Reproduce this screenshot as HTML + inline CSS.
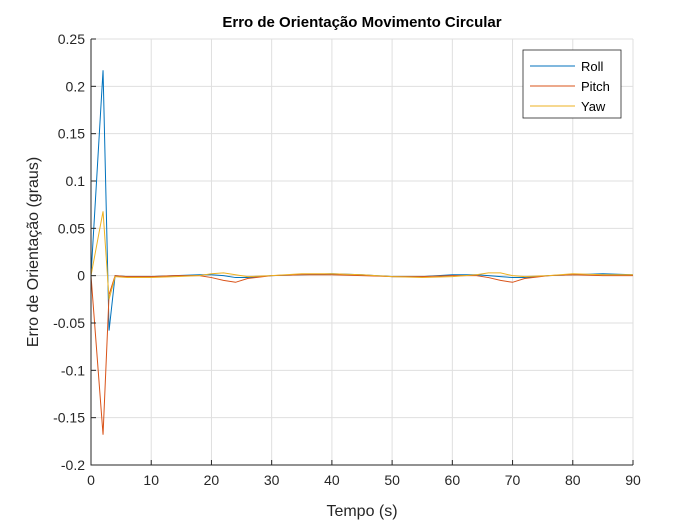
<!DOCTYPE html>
<html><head><meta charset="utf-8"><style>
body{margin:0;background:#fff;font-family:"Liberation Sans",sans-serif}
svg text{font-family:"Liberation Sans",sans-serif}
</style></head><body>
<svg width="700" height="525" id="c">
<rect width="700" height="525" fill="#fff"/>
<text x="362" y="27" text-anchor="middle" font-size="15" font-weight="bold" fill="#000">Erro de Orientação Movimento Circular</text>
<g id="grid"></g><g id="series"></g><g id="axes"></g>
<text x="362" y="516" text-anchor="middle" font-size="16" fill="#262626">Tempo (s)</text>
<text transform="translate(38,252) rotate(-90)" text-anchor="middle" font-size="16" fill="#262626">Erro de Orientação (graus)</text>
<g>
<rect x="523" y="50" width="98" height="68" fill="#fff" stroke="#262626" stroke-width="0.8"/>
<g><line x1="530" y1="66" x2="575" y2="66" stroke="#0072BD"/><text x="581" y="71" font-size="13">Roll</text></g>
<g><line x1="530" y1="86" x2="575" y2="86" stroke="#D95319"/><text x="581" y="91" font-size="13">Pitch</text></g>
<g><line x1="530" y1="106" x2="575" y2="106" stroke="#EDB120"/><text x="581" y="111" font-size="13">Yaw</text></g>
</g>
</svg>
<script>
const times=[0,2,3,4,6,10,14,18,20,22,24,26,30,35,40,45,50,55,60,64,66,68,70,72,76,80,85,90];
const roll=[0,0.217,-0.058,0,-0.001,-0.001,0,0.001,0.001,0,-0.002,-0.002,0,0.001,0.002,0.001,-0.001,-0.001,0.001,0.001,0,-0.001,-0.002,-0.002,0,0.001,0.002,0.001];
const pitch=[0,-0.168,-0.02,0,-0.001,-0.001,0,0,-0.002,-0.005,-0.007,-0.003,0,0.001,0.001,0,-0.001,-0.001,0,0,-0.002,-0.005,-0.007,-0.003,0,0.001,0,0];
const yaw=[0,0.068,-0.025,-0.001,-0.002,-0.002,-0.001,0,0.002,0.003,0.001,-0.001,0,0.002,0.002,0.001,-0.001,-0.002,-0.001,0.001,0.003,0.003,0,-0.001,0,0.002,0.001,0.001];
const xTicks=[0,10,20,30,40,50,60,70,80,90];
const yTicks=[0.25,0.2,0.15,0.1,0.05,0,-0.05,-0.1,-0.15,-0.2];
const X0=91,X1=633,Y0=465,Y1=39;
const sx=v=>X0+(v-0)/90*(X1-X0);
const sy=v=>Y0-(v+0.2)/0.45*(Y0-Y1);
const NS="http://www.w3.org/2000/svg";
function mk(t,a,p){const e=document.createElementNS(NS,t);for(const k in a)e.setAttribute(k,a[k]);p.appendChild(e);return e;}
const g=document.getElementById('grid'),ax=document.getElementById('axes'),s=document.getElementById('series');
xTicks.forEach(v=>{const x=sx(v);
const l=mk('line',{x1:x,x2:x,y1:Y1,y2:Y0,stroke:'#dfdfdf'},g);


mk('line',{x1:x,x2:x,y1:Y0,y2:Y0-5,stroke:'#262626'},ax);
const t=mk('text',{x:x,y:Y0+20,'text-anchor':'middle','font-size':14,fill:'#262626'},ax);t.textContent=v;

});
yTicks.forEach(v=>{const y=sy(v);
const l=mk('line',{x1:X0,x2:X1,y1:y,y2:y,stroke:'#dfdfdf'},g);


mk('line',{x1:X0,x2:X0+5,y1:y,y2:y,stroke:'#262626'},ax);
const t=mk('text',{x:X0-6,y:y+5,'text-anchor':'end','font-size':14,fill:'#262626'},ax);t.textContent=String(v);

});
mk('path',{d:`M${X0},${Y1}V${Y0}H${X1}`,fill:'none',stroke:'#262626'},ax);
[[roll,'#0072BD','roll-line'],[pitch,'#D95319','pitch-line'],[yaw,'#EDB120','yaw-line']].forEach(([d,c,n])=>{
const p=mk('polyline',{points:d.map((v,i)=>sx(times[i])+','+sy(v)).join(' '),fill:'none',stroke:c,'stroke-width':1},s);

});
</script>
</body></html>
